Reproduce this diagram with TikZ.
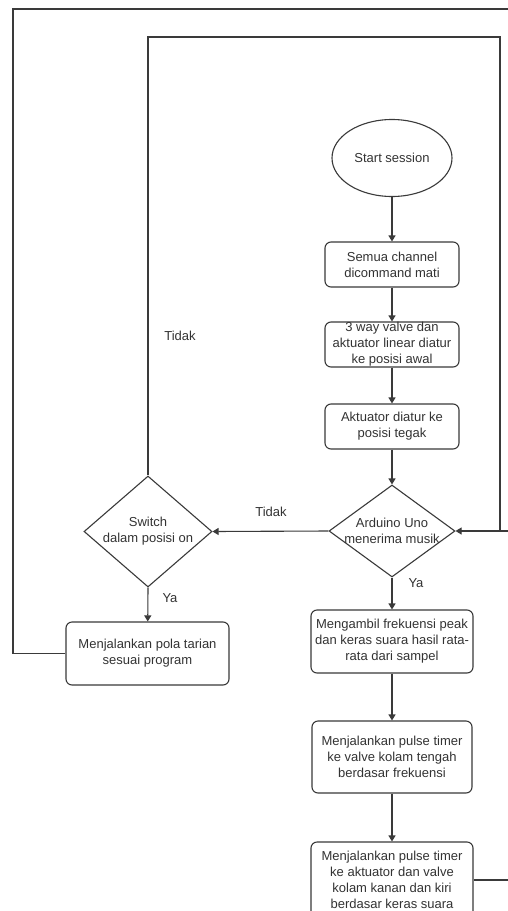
\documentclass[tikz,border=0pt]{standalone}
\usepackage{fontspec}
\setmainfont{Liberation Sans}
\usetikzlibrary{shapes.geometric,arrows.meta}
\definecolor{lnc}{HTML}{3A3A3A}
\definecolor{txc}{HTML}{333333}
\begin{document}
\begin{tikzpicture}[x=1pt,y=-1pt,
  font=\fontsize{13}{16}\selectfont,
  box/.style={draw=lnc, line width=1.1pt, rounded corners=6pt, align=center, inner sep=0pt, text=txc},
  dia/.style={draw=lnc, line width=1.1pt, diamond, inner sep=0pt},
  txt/.style={align=center, inner sep=0pt, text=txc},
  lbl/.style={inner sep=0pt, text=txc},
  conn/.style={draw=lnc, line width=1.1pt},
  arr/.style={draw=lnc, line width=1.1pt, -{Triangle[length=6pt,width=7pt]}}]
\fill[white] (0,0) rectangle (508,911);
\useasboundingbox (0,0) rectangle (508,911);
\clip (0,0) rectangle (508,911);

% nodes
\node[draw=lnc, line width=1.1pt, ellipse, minimum width=120pt, minimum height=77pt, inner sep=0pt, text=txc] (start) at (392,158) {Start session};
\node[box, minimum width=134pt, minimum height=45pt] (b1) at (392,264.5) {Semua channel\\dicommand mati};
\node[box, minimum width=134pt, minimum height=45pt] (b2) at (392,344.5) {3 way valve dan\\aktuator linear diatur\\ke posisi awal};
\node[box, minimum width=134pt, minimum height=45pt] (b3) at (392,426.5) {Aktuator diatur ke\\posisi tegak};
\node[dia, minimum width=126pt, minimum height=92pt] (ard) at (392,531) {};
\node[txt] (ardt) at (ard) {Arduino Uno\\menerima musik};
\node[dia, minimum width=128pt, minimum height=111pt] (sw) at (148,531.5) {};
\node[txt] (swt) at (sw) {Switch\\dalam posisi on};
\node[box, minimum width=163pt, minimum height=63pt] (pola) at (147.5,653.5) {Menjalankan pola tarian\\sesuai program};
\node[box, minimum width=162pt, minimum height=63pt] (meng) at (392,641.5) {Mengambil frekuensi peak\\dan keras suara hasil rata-\\rata dari sampel};
\node[box, minimum width=160pt, minimum height=72pt] (p1) at (392,757) {Menjalankan pulse timer\\ke valve kolam tengah\\berdasar frekuensi};
\node[box, minimum width=162pt, minimum height=76pt] (p2) at (392,880) {Menjalankan pulse timer\\ke aktuator dan valve\\kolam kanan dan kiri\\berdasar keras suara};

% free ends / corners
\coordinate (tl) at (13,9);
\coordinate (edgeT) at (510,9);
\coordinate (tr) at (500,37);
\coordinate (rr) at (500,531);
\coordinate (edgeA) at (510,531);
\coordinate (edgeB) at (510,880);

% connectors
\draw[arr] (start) -- (b1);
\draw[arr] (b1) -- (b2);
\draw[arr] (b2) -- (b3);
\draw[arr] (b3) -- (ard.north);
\draw[arr] (ard.west) -- (sw.east);
\draw[arr] (ard.south) -- (meng);
\draw[arr] (sw.south) -- (pola);
\draw[arr] (meng) -- (p1);
\draw[arr] (p1) -- (p2);
\draw[conn] (sw.north) |- (tr) -- (rr);
\draw[arr] (edgeA) -- (ard.east);
\draw[conn] (pola.west) -| (tl) -- (edgeT);
\draw[conn] (p2.east) -- (edgeB);

% labels
\node[lbl] (t1) at (271,512) {Tidak};
\node[lbl] (t2) at (180,336) {Tidak};
\node[lbl] (y1) at (416,583) {Ya};
\node[lbl] (y2) at (170,598) {Ya};
\end{tikzpicture}
\end{document}
